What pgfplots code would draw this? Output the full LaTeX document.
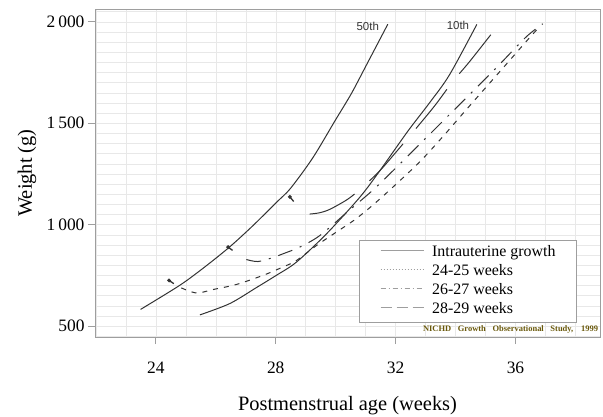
\documentclass[border=0pt]{standalone}
\usepackage{pgfplots}
\pgfplotsset{compat=1.18}
\usepackage{fontspec}
\setmainfont{Liberation Serif}
\newfontfamily\arial{Liberation Sans}

\definecolor{curve}{gray}{0.2}
\definecolor{frame}{gray}{0.62}
\definecolor{gridc}{gray}{0.91}
\definecolor{nichd}{RGB}{105,88,10}

\begin{document}
\begin{tikzpicture}
\begin{axis}[
  name=ax,
  width=505bp, height=328bp, scale only axis,
  xmin=21.97, xmax=38.82, ymin=446, ymax=2063,
  xtick={24,28,32,36}, ytick={500,1000,1500,2000},
  minor xtick={22,...,38}, minor ytick={450,500,...,2050},
  grid=both, major grid style={gridc}, minor grid style={gridc},
  tick align=outside, xtick pos=left, ytick pos=left,
  major tick length=7bp, minor tick length=0pt,
  axis line style={frame}, tick style={frame, line width=0.8bp},
  ticklabel style={font=\fontsize{17.5}{20}\selectfont},
  xticklabel style={yshift=-14bp},
  label style={font=\fontsize{20.5}{24}\selectfont},
  xlabel={Postmenstrual age (weeks)},
  ylabel={Weight (g)},
  xlabel style={at={(axis description cs:0.5,-0.2104)}, anchor=center},
  ylabel style={at={(axis description cs:-0.1347,0.5)}, anchor=center},
  legend style={at={(axis description cs:0.954,0.046)}, anchor=south east,
    draw=frame, fill=white, font=\fontsize{16}{19}\selectfont,
    inner xsep=21bp, inner ysep=4.5bp, row sep=3bp, column sep=8bp,
    nodes={inner sep=0pt, text height=12bp, text depth=4bp},
    cells={anchor=west}},
  legend image code/.code={\draw[#1] (0bp,1.5bp) -- (43bp,1.5bp);},
  /pgf/number format/1000 sep={\,},
  /pgf/number format/assume math mode=true,
]
\addlegendimage{frame, line width=0.7bp}
\addlegendentry{Intrauterine growth}
\addlegendimage{frame, line width=0.7bp, dash pattern=on 1bp off 2bp}
\addlegendentry{24-25 weeks}
\addlegendimage{frame, line width=0.7bp, dash pattern=on 5bp off 3bp on 1bp off 3bp}
\addlegendentry{26-27 weeks}
\addlegendimage{frame, line width=0.7bp, dash pattern=on 11bp off 5bp}
\addlegendentry{28-29 weeks}

% intrauterine 50th
\addplot[curve, line width=1bp, smooth, forget plot] coordinates {
(23.49,582) (24.8,701) (25.63,791) (26.47,891) (27.24,995) (28.02,1109)
(28.5,1180) (29.24,1330) (29.97,1510) (30.52,1645) (31.02,1785) (31.74,1988)};
% intrauterine 10th
\addplot[curve, line width=1bp, smooth, forget plot] coordinates {
(25.47,555) (26.47,611) (27.36,690) (28.02,750) (28.69,815) (29.69,954)
(30.8,1134) (31.47,1265) (32.41,1461) (33.13,1600) (33.8,1739) (34.71,1987)};
% 24-25 weeks
\addplot[curve, line width=1bp, smooth, dash pattern=on 5bp off 6bp, forget plot] coordinates {
(24.85,688) (25.36,663) (25.91,680) (26.69,705) (27.58,750) (28.24,791)
(28.69,823) (29.36,897) (30.0,961) (30.69,1030) (31.47,1126) (32.74,1300)
(33.56,1431) (34.36,1567) (35.6,1775) (36.4,1910) (36.8,1975)};
% 26-27 weeks
\addplot[curve, line width=1bp, smooth, dash pattern=on 15bp off 8bp on 2bp off 8bp, forget plot] coordinates {
(27.02,828) (27.41,818) (27.91,838) (28.24,856) (28.8,889) (29.47,946)
(30.41,1065) (31.24,1170) (32.08,1290) (32.91,1412) (33.8,1543) (34.63,1665)
(35.47,1790) (36.36,1926) (36.91,1990)};
% 28-29 weeks
\addplot[curve, line width=1bp, smooth, dash pattern=on 50bp off 20bp, forget plot] coordinates {
(29.13,1052) (29.45,1058) (29.8,1075) (30.41,1126) (30.9,1185) (31.47,1265)
(32.0,1355) (32.63,1465) (33.3,1585) (33.91,1706) (34.47,1804) (35.43,1984)};
% start markers on the 50th curve
\addplot[curve, line width=1.3bp, mark=*, mark size=1.2bp, mark indices={1}, forget plot]
  coordinates {(24.44,725) (24.6,709)};
\addplot[curve, line width=1.3bp, mark=*, mark size=1.2bp, mark indices={1}, forget plot]
  coordinates {(26.41,889) (26.56,873)};
\addplot[curve, line width=1.3bp, mark=*, mark size=1.2bp, mark indices={1}, forget plot]
  coordinates {(28.47,1137) (28.6,1114)};

\node[text=curve, font=\arial\fontsize{11.5}{13}\selectfont] at (axis cs:31.07,1978) {50th};
\node[text=curve, font=\arial\fontsize{11.5}{13}\selectfont] at (axis cs:34.08,1980) {10th};
\node[text=nichd, font=\fontsize{8.5}{9}\selectfont\bfseries, inner sep=0pt]
  at (rel axis cs:0.8228,0.0244) {\makebox[175bp][s]{NICHD Growth Observational Study, 1999}};
\end{axis}
\pgfresetboundingbox
\path[use as bounding box] ([xshift=-95bp,yshift=-80bp]ax.south west) rectangle ++(603bp,417bp);
\end{tikzpicture}
\end{document}
